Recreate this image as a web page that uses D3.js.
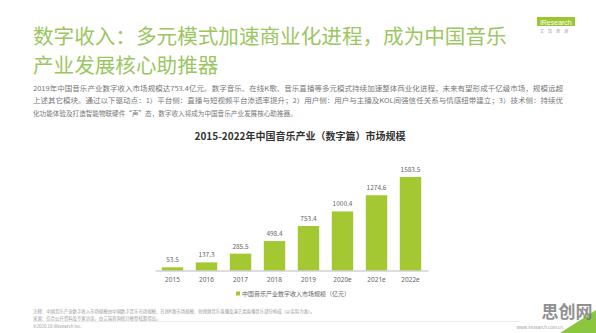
<!DOCTYPE html>
<html>
<head>
<meta charset="utf-8">
<script src="https://cdn.jsdelivr.net/npm/d3@7"></script>
<style>
  body { margin: 0; background: #fff; }
  svg { display: block; font-family: "Noto Sans CJK SC", "Noto Sans", sans-serif; }
</style>
</head>
<body>
<div id="chart"></div>
<script>
// data
const years = ["2015", "2016", "2017", "2018", "2019", "2020e", "2021e", "2022e"];
const revenue = [53.5, 137.3, 285.5, 498.4, 753.4, 1000.4, 1274.6, 1583.5];
const titleLines = ["数字收入：多元模式加速商业化进程，成为中国音乐", "产业发展核心助推器"];
const introLines = [
    "2019年中国音乐产业数字收入市场规模达753.4亿元。数字音乐、在线K歌、音乐直播等多元模式持续加速整体商业化进程，未来有望形成千亿级市场，规模远超",
    "上述其它模块。通过以下驱动点：1）平台侧：直播与短视频平台渗透率提升；2）用户侧：用户与主播及KOL间强信任关系与情感纽带建立；3）技术侧：持续优",
    "化功能体验及打造智能物联硬件“声”态，数字收入将成为中国音乐产业发展核心助推器。"
];
const chartTitle = "2015-2022年中国音乐产业（数字篇）市场规模";
const legendLabel = "中国音乐产业数字收入市场规模（亿元）";
const notes = [
    "注释：中国音乐产业数字收入市场规模由中国数字音乐市场规模、在线K歌市场规模、短视频音乐直播及演艺类直播音乐部分构成（以实际为准）。",
    "来源：综合公开资料及专家访谈，由艾瑞咨询统计模型核算得出。"
];

const W = 596, H = 333;
const green = "#a3c832";
const titleGreen = "#9cc662";

const svg = d3.select("#chart").append("svg")
    .attr("width", W)
    .attr("height", H);

// page title
svg.selectAll(".title")
    .data(titleLines)
    .enter().append("text")
    .attr("class", "title")
    .attr("x", 33)
    .attr("y", (d, i) => 44 + i * 29)
    .attr("fill", titleGreen)
    .attr("font-size", 20.6)
    .text(d => d);

// logo top right
svg.append("rect")
    .attr("x", 537).attr("y", 17).attr("width", 38).attr("height", 9)
    .attr("fill", "#9cc631");
svg.append("text")
    .attr("x", 556).attr("y", 24.5)
    .attr("text-anchor", "middle")
    .attr("font-size", 7).attr("fill", "#fff")
    .attr("font-family", "Liberation Sans, sans-serif")
    .text("iResearch");
svg.append("text")
    .attr("x", 556).attr("y", 33)
    .attr("text-anchor", "middle")
    .attr("font-size", 4).attr("fill", "#999")
    .attr("letter-spacing", 4)
    .text("艾瑞咨询");

// intro paragraph
svg.selectAll(".intro")
    .data(introLines)
    .enter().append("text")
    .attr("class", "intro")
    .attr("x", 33)
    .attr("y", (d, i) => 91 + i * 12.3)
    .attr("fill", "#777")
    .attr("font-size", 6.6)
    .attr("textLength", (d, i) => i < 2 ? 530 : null)
    .attr("lengthAdjust", "spacingAndGlyphs")
    .text(d => d);

// chart title
svg.append("text")
    .attr("x", 300).attr("y", 140)
    .attr("text-anchor", "middle")
    .attr("font-size", 10).attr("font-weight", "bold")
    .attr("fill", "#333")
    .text(chartTitle);

// scales
const margin = {left: 155, right: 168, top: 177, bottom: 270.5};
const x = d3.scaleBand()
    .domain(years)
    .range([margin.left, W - margin.right])
    .paddingInner(0.37)
    .paddingOuter(0.2);
const y = d3.scaleLinear()
    .domain([0, d3.max(revenue)])
    .range([margin.bottom, margin.top]);

const bars = years.map((yr, i) => ({year: yr, value: revenue[i]}));

svg.selectAll(".bar")
    .data(bars)
    .enter().append("rect")
    .attr("class", "bar")
    .attr("x", d => x(d.year))
    .attr("y", d => y(d.value))
    .attr("width", x.bandwidth())
    .attr("height", d => y(0) - y(d.value))
    .attr("fill", green);

svg.selectAll(".val")
    .data(bars)
    .enter().append("text")
    .attr("class", "val")
    .attr("x", d => x(d.year) + x.bandwidth() / 2)
    .attr("y", d => y(d.value) - 5)
    .attr("text-anchor", "middle")
    .attr("font-size", 6.5)
    .attr("fill", "#666")
    .text(d => d.value.toFixed(1));

// x axis
const xAxis = d3.axisBottom(x).tickSize(0).tickPadding(7);
const xg = svg.append("g")
    .attr("transform", "translate(0," + y(0) + ")")
    .call(xAxis);
xg.select(".domain").attr("stroke", "#bbb").attr("stroke-width", 1);
xg.selectAll("text")
    .attr("font-size", 6.5)
    .attr("fill", "#666")
    .attr("font-family", "Noto Sans, sans-serif");

// legend
svg.append("rect")
    .attr("x", 236).attr("y", 291.5).attr("width", 4).attr("height", 4)
    .attr("fill", green);
svg.append("text")
    .attr("x", 242).attr("y", 296)
    .attr("font-size", 6)
    .attr("fill", "#666")
    .text(legendLabel);

// footer
svg.selectAll(".note")
    .data(notes)
    .enter().append("text")
    .attr("class", "note")
    .attr("x", 33)
    .attr("y", (d, i) => 313 + i * 6.5)
    .attr("font-size", 4.4)
    .attr("fill", "#999")
    .text(d => d);
svg.append("line")
    .attr("x1", 33).attr("x2", 520).attr("y1", 321.5).attr("y2", 321.5)
    .attr("stroke", "#ddd").attr("stroke-width", 0.6);
svg.append("text")
    .attr("x", 33).attr("y", 328)
    .attr("font-size", 4.4).attr("fill", "#999")
    .text("©2020.10 iResearch Inc.");
svg.append("text")
    .attr("x", 563).attr("y", 329)
    .attr("text-anchor", "end")
    .attr("font-size", 4.4).attr("fill", "#999")
    .text("www.iresearch.com.cn");

// watermark and corner
svg.append("path")
    .attr("d", "M 560 333 L 596 310 L 596 333 Z")
    .attr("fill", "#8cc63f");
svg.append("text")
    .attr("x", 567).attr("y", 318)
    .attr("text-anchor", "middle")
    .attr("font-size", 17).attr("font-weight", "bold")
    .attr("fill", "#7d7d7d").attr("opacity", 0.85)
    .text("思创网");
</script>
</body>
</html>
